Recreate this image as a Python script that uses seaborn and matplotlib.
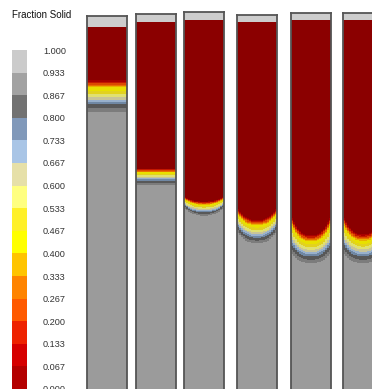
import numpy as np
import matplotlib
matplotlib.use("Agg")
import matplotlib.pyplot as plt
from matplotlib.colors import ListedColormap, BoundaryNorm
import seaborn as sns

sns.set_style("white")
plt.rcParams["font.family"] = ["Liberation Sans", "DejaVu Sans"]

# Fraction-solid classes (boundaries as printed, low to high) and their colours
level_labels = ["0.000", "0.067", "0.133", "0.200", "0.267", "0.333", "0.400", "0.467",
                "0.533", "0.600", "0.667", "0.733", "0.800", "0.867", "0.933", "1.000"]
class_colors = ["#b40000", "#d60000", "#ee2200", "#ff5a00", "#ff8400", "#ffc400",
                "#ffff00", "#fff028", "#ffff80", "#e6e0a8", "#a9c5e6", "#8199ba",
                "#727272", "#a2a2a2", "#cbcbcb"]
# the same classes as they appear on the lit ingot surfaces
ingot_colors = ["#8b0000", "#a80000", "#c41800", "#dc4a00", "#e87000", "#eab000",
                "#e8e000", "#e2d21e", "#e0e070", "#c8c498", "#98b0cc", "#7088a4",
                "#585858", "#7c7c7c", "#9b9b9b"]

# Six ingots, depths in mm below the top of the view frame
ingot_top = [16, 14, 12, 15, 13, 13]
cap_base = [27, 22, 20, 22, 20, 20]
liquidus_wall = [79, 168, 196, 207, 214, 214]
liquidus_axis = [79, 168, 201, 219, 234, 233]
solidus_wall = [113, 185, 208, 232, 254, 254]
solidus_axis = [113, 185, 216, 244, 264, 264]

# Fraction solid across the mushy zone (0 = liquidus front, 1 = solidus front)
mush_pos = [0.0, 0.25, 0.53, 0.75, 1.0]
mush_fs = [0.0, 0.40, 0.60, 0.80, 0.95]

# ---- layout (pixels) ----
W, H, DPI = 372, 389, 100
col_left = [87, 136, 184, 237, 291, 343]
col_width = 40
view_bottom = 393          # ingots run past the lower edge of the frame
n_across = 20              # cells across each ingot
front_exp = 2.5            # bowl shape of the fronts
cap_color = "#cdcdcd"
edge_color = "#555555"

bounds = [float(s) for s in level_labels]
legend_cmap = ListedColormap(class_colors)
ingot_cmap = ListedColormap(ingot_colors)
norm = BoundaryNorm(bounds, len(class_colors), clip=True)

fig = plt.figure(figsize=(W / DPI, H / DPI), dpi=DPI)

for i in range(len(ingot_top)):
    top = ingot_top[i]
    n_rows = view_bottom - top
    depth = top + np.arange(n_rows)[:, None] + 0.5
    u = (np.arange(n_across)[None, :] + 0.5) / n_across * 2 - 1
    bowl = 1 - np.abs(u) ** front_exp
    y_liq = liquidus_wall[i] + (liquidus_axis[i] - liquidus_wall[i]) * bowl
    y_sol = solidus_wall[i] + (solidus_axis[i] - solidus_wall[i]) * bowl
    t = (depth - y_liq) / (y_sol - y_liq)
    fs = np.interp(t.ravel(), mush_pos, mush_fs, left=0.0, right=1.0).reshape(t.shape)
    fs[depth[:, 0] < cap_base[i], :] = np.nan

    ax = fig.add_axes([col_left[i] / W, 1 - view_bottom / H,
                       col_width / W, n_rows / H])
    sns.heatmap(fs, ax=ax, cmap=ingot_cmap, norm=norm, cbar=False,
                xticklabels=False, yticklabels=False)
    ax.set_facecolor(cap_color)
    for s in ax.spines.values():
        s.set_visible(True)
        s.set_color(edge_color)
        s.set_linewidth(1.3)

# ---- legend strip ----
leg_top, leg_bottom = 50, 389
lax = fig.add_axes([12 / W, 1 - leg_bottom / H, 15 / W, (leg_bottom - leg_top) / H])
mids = [(bounds[k] + bounds[k + 1]) / 2 for k in range(len(class_colors))]
strip = np.array(mids[::-1]).reshape(-1, 1)
sns.heatmap(strip, ax=lax, cmap=legend_cmap, norm=norm, cbar=False,
            xticklabels=False, yticklabels=False)
lax.yaxis.tick_right()
lax.set_yticks(np.arange(len(level_labels)))
lax.set_yticklabels(level_labels[::-1], rotation=0, fontsize=6.6, color="#333333")
lax.tick_params(axis="y", length=0, pad=11.5)
for s in lax.spines.values():
    s.set_visible(False)

fig.text(12 / W, 1 - 15 / H, "Fraction Solid", ha="left", va="center",
         fontsize=7, color="#111111")

fig.savefig("out.png", dpi=DPI)
